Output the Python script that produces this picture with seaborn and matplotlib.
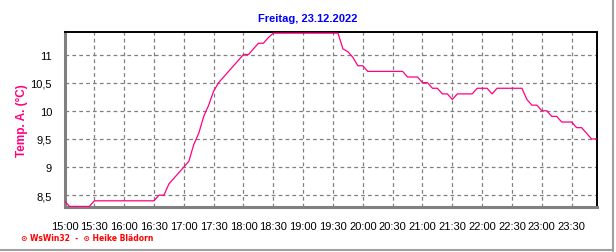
import matplotlib
matplotlib.use("Agg")
import matplotlib.pyplot as plt
import seaborn as sns
import pandas as pd
import numpy as np
from matplotlib.ticker import MultipleLocator, FixedLocator
from matplotlib.lines import Line2D

# ---- data (minutes after 15:00, temperature in °C) ----
minutes = list(range(0, 540, 5))
temps = [
    8.4, 8.3, 8.3, 8.3, 8.3, 8.3, 8.4, 8.4, 8.4, 8.4, 8.4, 8.4,   # 15:00-15:55
    8.4, 8.4, 8.4, 8.4, 8.4, 8.4, 8.4, 8.5, 8.5, 8.7, 8.8, 8.9,   # 16:00-16:55
    9.0, 9.1, 9.4, 9.6, 9.9, 10.1, 10.35, 10.5, 10.6, 10.7, 10.8, 10.9,  # 17:00-17:55
    11.0, 11.0, 11.1, 11.2, 11.2, 11.3, 11.38, 11.38, 11.38, 11.38, 11.38, 11.38,  # 18:00-18:55
    11.38, 11.38, 11.38, 11.38, 11.38, 11.38, 11.38, 11.38, 11.1, 11.05, 10.95, 10.8,  # 19:00-19:55
    10.8, 10.7, 10.7, 10.7, 10.7, 10.7, 10.7, 10.7, 10.7, 10.6, 10.6, 10.6,  # 20:00-20:55
    10.5, 10.5, 10.4, 10.4, 10.3, 10.3, 10.2, 10.3, 10.3, 10.3, 10.3, 10.4,  # 21:00-21:55
    10.4, 10.4, 10.3, 10.4, 10.4, 10.4, 10.4, 10.4, 10.4, 10.2, 10.1, 10.1,  # 22:00-22:55
    10.0, 10.0, 9.9, 9.9, 9.8, 9.8, 9.8, 9.7, 9.7, 9.6, 9.5, 9.5,  # 23:00-23:55
]
x_ticks = list(range(0, 540, 30))
x_labels = ["15:00", "15:30", "16:00", "16:30", "17:00", "17:30", "18:00", "18:30",
            "19:00", "19:30", "20:00", "20:30", "21:00", "21:30", "22:00", "22:30",
            "23:00", "23:30"]
y_ticks = [8.5, 9.0, 9.5, 10.0, 10.5, 11.0]
y_labels = ["8,5", "9", "9,5", "10", "10,5", "11"]
title = "Freitag, 23.12.2022"
ylabel = "Temp. A. (°C)"
footer = "\u2299 WsWin32  -  \u2299 Heike Blädorn"

df = pd.DataFrame({"t": minutes, "temp": temps})

sns.set_style("white")
plt.rcParams["font.family"] = ["Liberation Sans", "DejaVu Sans"]

W, H = 616, 253
fig = plt.figure(figsize=(W / 100, H / 100), dpi=100)
ax = fig.add_axes([64.5 / W, (H - 208) / H, (597 - 64.5) / W, (208 - 33) / H])

sns.lineplot(data=df, x="t", y="temp", ax=ax, color="#FF0080", linewidth=0.9, zorder=3)

ax.set_xlim(0, 535.5)
ax.set_ylim(8.29, 11.4)

ax.xaxis.set_major_locator(FixedLocator(x_ticks))
ax.set_xticklabels(x_labels)
ax.xaxis.set_minor_locator(MultipleLocator(10))
ax.yaxis.set_major_locator(FixedLocator(y_ticks))
ax.set_yticklabels(y_labels)
ax.yaxis.set_minor_locator(MultipleLocator(0.1))

ax.grid(True, which="major", color="#808080", linestyle=(0, (3, 2.5)), linewidth=0.9)
ax.set_axisbelow(True)

for s in ["left", "bottom"]:
    ax.spines[s].set_color("#808080")
    ax.spines[s].set_linewidth(2.2)
for s in ["top", "right"]:
    ax.spines[s].set_color("black")
    ax.spines[s].set_linewidth(1.4)

ax.tick_params(axis="both", which="major", direction="out", length=4, width=1,
               color="#808080", labelsize=8, labelcolor="black")
ax.tick_params(axis="both", which="minor", direction="out", length=2.5, width=1,
               color="#808080")
ax.tick_params(axis="x", which="major", pad=6)
ax.tick_params(axis="y", which="major", pad=5)

ax.set_xlabel("")
ax.set_ylabel(ylabel, color="#FF0080", fontsize=8.5, fontweight="bold", labelpad=6)
ax.yaxis.set_label_coords(-37 / (597 - 64.5), 0.5)

fig.text(308 / W, 1 - 19 / H, title, color="#0000FF", fontsize=8, fontweight="bold",
         ha="center", va="center")
fig.text(21 / W, 1 - 239 / H, footer, color="#FF0000", fontsize=5.5, fontweight="bold",
         ha="left", va="center", family=["DejaVu Sans"])

# outer frame lines (right and bottom)
fig.add_artist(Line2D([613 / W, 613 / W], [1 / H, 1.0], color="#A0A0A0", linewidth=1.5,
                      transform=fig.transFigure))
fig.add_artist(Line2D([0, 613 / W], [2 / H, 2 / H], color="#A0A0A0", linewidth=1.5,
                      transform=fig.transFigure))

fig.savefig("out.png", dpi=100)
